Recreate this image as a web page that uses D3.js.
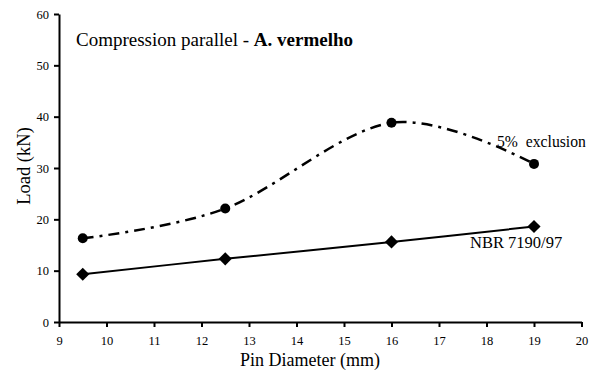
<!DOCTYPE html>
<html>
<head>
<meta charset="utf-8">
<script src="https://cdn.jsdelivr.net/npm/d3@7"></script>
<style>
  html, body { margin: 0; padding: 0; background: #fff; }
  svg { display: block; }
</style>
</head>
<body>
<svg id="chart" width="596" height="373"></svg>
<script>
// Pin diameters (mm) and load values (kN)
const diameters = [9.5, 12.5, 16, 19];
const exclusion5 = [16.3, 22.1, 38.8, 30.8];
const nbr7190 = [9.3, 12.3, 15.6, 18.6];
const xTicks = [9, 10, 11, 12, 13, 14, 15, 16, 17, 18, 19, 20];
const yTicks = [0, 10, 20, 30, 40, 50, 60];

const FONT = '"Liberation Serif"';
const svg = d3.select("#chart").attr("font-family", "Liberation Serif");
const x = d3.scaleLinear().domain([9, 20]).range([59, 581.5]);
const y = d3.scaleLinear().domain([0, 60]).range([322, 14]);

// Axes
const xAxis = svg.append("g").attr("transform", `translate(0,${y(0)})`)
  .call(d3.axisBottom(x).tickValues(xTicks).tickSize(5).tickSizeOuter(0).tickPadding(9));
const yAxis = svg.append("g").attr("transform", `translate(${x(9)},0)`)
  .call(d3.axisLeft(y).tickValues(yTicks).tickSize(5).tickSizeOuter(0).tickPadding(5));
[xAxis, yAxis].forEach(g => {
  g.attr("font-family", null).attr("font-size", null);
  g.select(".domain").attr("stroke", "#000").attr("stroke-width", 2);
  g.selectAll(".tick line").attr("stroke", "#000").attr("stroke-width", 2);
  g.selectAll(".tick text").style("font-family", FONT).style("font-size", "12.5px").attr("fill", "#000");
});

// Smoothed series lines
const line = vals => d3.line()
  .x((d, i) => x(diameters[i]))
  .y(d => y(d))
  .curve(d3.curveCardinal.tension(0))(vals);

svg.append("path").attr("d", line(exclusion5))
  .attr("fill", "none").attr("stroke", "#000").attr("stroke-width", 2.5)
  .attr("stroke-dasharray", "11,6,3,6");

svg.append("path").attr("d", line(nbr7190))
  .attr("fill", "none").attr("stroke", "#000").attr("stroke-width", 2);

// Markers
svg.selectAll("circle.m").data(exclusion5).enter().append("circle")
  .attr("cx", (d, i) => x(diameters[i])).attr("cy", d => y(d)).attr("r", 5).attr("fill", "#000");

const diamond = d3.symbol().type(d3.symbolDiamond2).size(110);
svg.selectAll("path.m").data(nbr7190).enter().append("path")
  .attr("d", diamond)
  .attr("transform", (d, i) => `translate(${x(diameters[i])},${y(d)})`)
  .attr("fill", "#000");

// Titles and labels
const title = svg.append("text").attr("x", 76).attr("y", 46)
  .style("font-family", FONT).style("font-size", "19px").style("white-space", "pre");
title.append("tspan").text("Compression parallel - ");
title.append("tspan").style("font-weight", "bold").text("A. vermelho");

svg.append("text").attr("x", 497).attr("y", 147)
  .style("font-family", FONT).style("font-size", "15.7px")
  .style("white-space", "pre").text("5%  exclusion");
svg.append("text").attr("x", 470).attr("y", 247.5)
  .style("font-family", FONT).style("font-size", "16.5px").text("NBR 7190/97");

svg.append("text").attr("x", 310).attr("y", 366).attr("text-anchor", "middle")
  .style("font-family", FONT).style("font-size", "18px").text("Pin Diameter (mm)");
svg.append("text").attr("transform", "translate(30,166) rotate(-90)").attr("text-anchor", "middle")
  .style("font-family", FONT).style("font-size", "18.5px").text("Load (kN)");
</script>
</body>
</html>
